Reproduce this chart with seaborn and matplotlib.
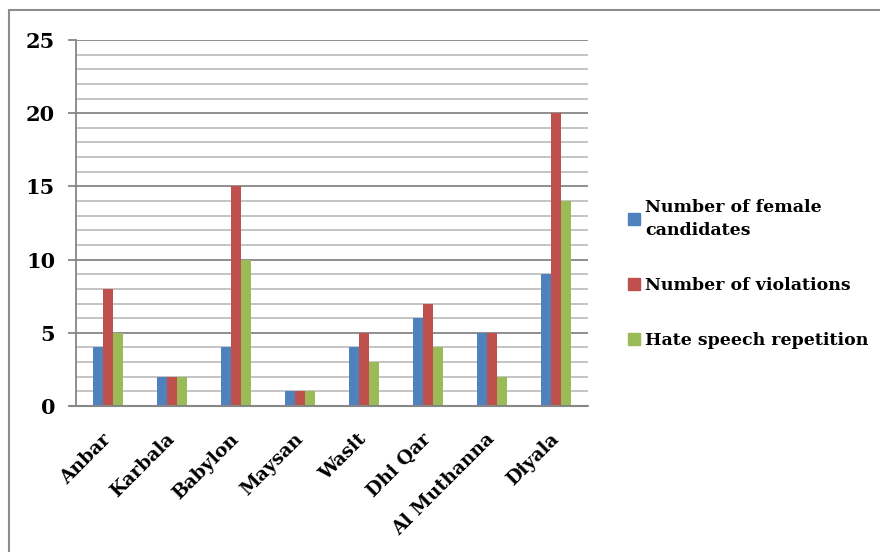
import matplotlib
matplotlib.use('Agg')
import matplotlib.pyplot as plt
import pandas as pd
import seaborn as sns
from matplotlib.lines import Line2D

sns.set_style('white')
plt.rcParams['font.family'] = ['DejaVu Serif']
plt.rcParams['font.weight'] = 'bold'
plt.rcParams['text.color'] = 'black'
plt.rcParams['xtick.color'] = 'black'
plt.rcParams['ytick.color'] = 'black'

# ── Data ──────────────────────────────────────────────────────────────────────
provinces = ['Anbar', 'Karbala', 'Babylon', 'Maysan', 'Wasit',
             'Dhi Qar', 'Al Muthanna', 'Diyala']
series    = ['Number of female candidates', 'Number of violations',
             'Hate speech repetition']
female     = [4, 2, 4, 1, 4, 6, 5, 9]
violations = [8, 2, 15, 1, 5, 7, 5, 20]
hate       = [5, 2, 10, 1, 3, 4, 2, 14]
legend_labels = ['Number of female\ncandidates', 'Number of violations',
                 'Hate speech repetition']
colors = ['#4F81BD', '#C0504D', '#9BBB59']

df = pd.DataFrame({
    'province': provinces * 3,
    'series':   [series[0]] * 8 + [series[1]] * 8 + [series[2]] * 8,
    'value':    female + violations + hate,
})

fig = plt.figure(figsize=(8.8, 5.52), dpi=100)
ax = fig.add_axes([76 / 880, 1 - 406 / 552, 512 / 880, 366 / 552])

sns.barplot(data=df, x='province', y='value', hue='series', order=provinces,
            hue_order=series, palette=colors, width=0.47, saturation=1,
            linewidth=0, ax=ax, legend=False)

# gridlines: minor every 1, major every 5
for v in range(1, 26):
    major = v % 5 == 0
    ax.axhline(v, color='#868686' if major else '#B4B4B4',
               linewidth=1.3 if major else 1.1, zorder=0)

ax.set_ylim(0, 25)
ax.set_xlim(-0.5, 7.5)
ax.set_yticks(range(0, 26, 5))
ax.set_xlabel('')
ax.set_ylabel('')
for s in ['top', 'right']:
    ax.spines[s].set_visible(False)
ax.spines['left'].set_color('#868686')
ax.spines['left'].set_linewidth(1.3)
ax.spines['bottom'].set_visible(False)
ax.axhline(0, xmin=-6 / 512, xmax=1, color='#868686', linewidth=1.5,
           clip_on=False, zorder=3)
ax.tick_params(axis='y', length=6, width=1.3, color='#868686',
               labelcolor='black', labelsize=15, pad=9, left=True)
ax.tick_params(axis='x', length=0, labelsize=13.5, labelcolor='black', pad=22)
for lbl in ax.get_yticklabels():
    lbl.set_fontweight('bold')
for lbl in ax.get_xticklabels():
    lbl.set_rotation(45)
    lbl.set_ha('right')
    lbl.set_va('center')
    lbl.set_rotation_mode('anchor')
    lbl.set_fontweight('bold')

handles = [plt.Rectangle((0, 0), 1, 1, color=c) for c in colors]
leg = fig.legend(handles, legend_labels, loc='center left',
                 bbox_to_anchor=(612 / 880, 1 - 274 / 552), frameon=False,
                 prop={'size': 12.5, 'weight': 'bold'}, handlelength=0.7,
                 handleheight=0.7, handletextpad=0.3, labelspacing=2.2)
leg.get_texts()[0].set_linespacing(1.45)

# outer chart border (top and left edges visible)
fig.add_artist(Line2D([9 / 880, 9 / 880], [0, 1 - 10 / 552],
                      color='#8C8C8C', linewidth=1.5))
fig.add_artist(Line2D([9 / 880, 1], [1 - 10 / 552, 1 - 10 / 552],
                      color='#8C8C8C', linewidth=1.5))

fig.savefig('out.png', dpi=100)
